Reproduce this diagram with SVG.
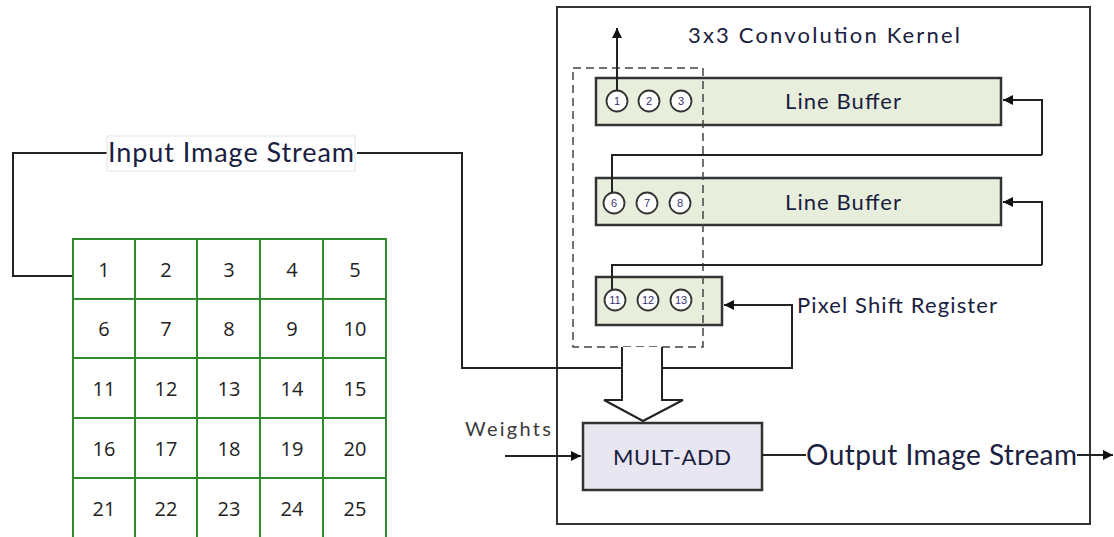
<svg xmlns="http://www.w3.org/2000/svg" width="1114" height="537" viewBox="0 0 1114 537">
<defs>
<style>
.ln{fill:none;stroke:#222;stroke-width:2}
.buf{fill:#e8eedc;stroke:#333;stroke-width:2.5}
.cir{fill:#fff;stroke:#333;stroke-width:1.8}
.cn{font-family:"Liberation Sans",Arial,sans-serif;font-size:11px;fill:#3a3070;text-anchor:middle}
.lbl{font-family:Lato,"Open Sans","Liberation Sans",sans-serif;fill:#1a2040}
.gn{font-family:"Open Sans","Liberation Sans",sans-serif;font-size:20px;fill:#222;text-anchor:middle}
.cell{fill:#fff;stroke:#2e8b2e;stroke-width:2}
</style>
<marker id="ah" viewBox="0 0 10 10" refX="10" refY="5" markerWidth="10" markerHeight="10" markerUnits="userSpaceOnUse" orient="auto">
<path d="M0,0 L10,5 L0,10 z" fill="#111"/>
</marker>
</defs>
<rect width="1114" height="537" fill="#fff"/>

<g id="kernel">
<rect x="557" y="7" width="533" height="517" fill="#fff" stroke="#333" stroke-width="2"/>
<text x="688" y="43" class="lbl" font-size="22" textLength="272" lengthAdjust="spacing">3x3 Convolution Kernel</text>
</g>

<g id="linebuffer1">
<rect x="596" y="78" width="405" height="47" class="buf"/>
<text x="785" y="109" class="lbl" font-size="22" textLength="116" lengthAdjust="spacing">Line Buffer</text>
<circle cx="617" cy="101" r="10.5" class="cir"/><text x="617" y="105" class="cn">1</text>
<circle cx="649" cy="101" r="10.5" class="cir"/><text x="649" y="105" class="cn">2</text>
<circle cx="681" cy="101" r="10.5" class="cir"/><text x="681" y="105" class="cn">3</text>
</g>

<g id="linebuffer2">
<rect x="596" y="178" width="405" height="47" class="buf"/>
<text x="785" y="210" class="lbl" font-size="22" textLength="116" lengthAdjust="spacing">Line Buffer</text>
<circle cx="614" cy="203" r="10.5" class="cir"/><text x="614" y="207" class="cn">6</text>
<circle cx="647" cy="203" r="10.5" class="cir"/><text x="647" y="207" class="cn">7</text>
<circle cx="680" cy="203" r="10.5" class="cir"/><text x="680" y="207" class="cn">8</text>
</g>

<g id="shiftregister">
<rect x="596" y="277" width="126" height="48" class="buf"/>
<circle cx="615" cy="300" r="10.5" class="cir"/><text x="615" y="304" class="cn" font-size="10">11</text>
<circle cx="648" cy="300" r="10.5" class="cir"/><text x="648" y="304" class="cn" font-size="10">12</text>
<circle cx="681" cy="300" r="10.5" class="cir"/><text x="681" y="304" class="cn" font-size="10">13</text>
<text x="797" y="313" class="lbl" font-size="22" textLength="200" lengthAdjust="spacing">Pixel Shift Register</text>
</g>

<g id="window">
<rect x="573" y="68" width="130" height="279" fill="none" stroke="#444" stroke-width="1.5" stroke-dasharray="8,5"/>
</g>

<g id="multadd">
<rect x="583" y="423" width="179" height="67" fill="#e8e6f0" stroke="#333" stroke-width="2.5"/>
<text x="613" y="465" class="lbl" font-size="22" textLength="118" lengthAdjust="spacing">MULT-ADD</text>
</g>

<g id="weights">
<text x="465" y="436" font-family="Lato, Open Sans, Liberation Sans, sans-serif" font-size="20" fill="#3a3a3a" textLength="86" lengthAdjust="spacing">Weights</text>
</g>

<g id="inputgrid">
<g>
<rect x="73" y="239" width="62" height="60" class="cell"/><rect x="135" y="239" width="62" height="60" class="cell"/><rect x="197" y="239" width="63" height="60" class="cell"/><rect x="260" y="239" width="63" height="60" class="cell"/><rect x="323" y="239" width="63" height="60" class="cell"/>
<rect x="73" y="299" width="62" height="59" class="cell"/><rect x="135" y="299" width="62" height="59" class="cell"/><rect x="197" y="299" width="63" height="59" class="cell"/><rect x="260" y="299" width="63" height="59" class="cell"/><rect x="323" y="299" width="63" height="59" class="cell"/>
<rect x="73" y="358" width="62" height="60" class="cell"/><rect x="135" y="358" width="62" height="60" class="cell"/><rect x="197" y="358" width="63" height="60" class="cell"/><rect x="260" y="358" width="63" height="60" class="cell"/><rect x="323" y="358" width="63" height="60" class="cell"/>
<rect x="73" y="418" width="62" height="60" class="cell"/><rect x="135" y="418" width="62" height="60" class="cell"/><rect x="197" y="418" width="63" height="60" class="cell"/><rect x="260" y="418" width="63" height="60" class="cell"/><rect x="323" y="418" width="63" height="60" class="cell"/>
<rect x="73" y="478" width="62" height="62" class="cell"/><rect x="135" y="478" width="62" height="62" class="cell"/><rect x="197" y="478" width="63" height="62" class="cell"/><rect x="260" y="478" width="63" height="62" class="cell"/><rect x="323" y="478" width="63" height="62" class="cell"/>
</g>
<g>
<text x="104" y="277" class="gn">1</text><text x="166" y="277" class="gn">2</text><text x="229" y="277" class="gn">3</text><text x="292" y="277" class="gn">4</text><text x="355" y="277" class="gn">5</text>
<text x="104" y="336" class="gn">6</text><text x="166" y="336" class="gn">7</text><text x="229" y="336" class="gn">8</text><text x="292" y="336" class="gn">9</text><text x="355" y="336" class="gn">10</text>
<text x="104" y="396" class="gn">11</text><text x="166" y="396" class="gn">12</text><text x="229" y="396" class="gn">13</text><text x="292" y="396" class="gn">14</text><text x="355" y="396" class="gn">15</text>
<text x="104" y="456" class="gn">16</text><text x="166" y="456" class="gn">17</text><text x="229" y="456" class="gn">18</text><text x="292" y="456" class="gn">19</text><text x="355" y="456" class="gn">20</text>
<text x="104" y="516" class="gn">21</text><text x="166" y="516" class="gn">22</text><text x="229" y="516" class="gn">23</text><text x="292" y="516" class="gn">24</text><text x="355" y="516" class="gn">25</text>
</g>
</g>

<g id="connectors">
<path d="M72,276 H13 V153 H107" class="ln"/>
<path d="M357,153 H462 V368 H792 V305 H724" class="ln" marker-end="url(#ah)"/>
<path d="M617,90 V28" class="ln" marker-end="url(#ah)"/>
<path d="M1042,155 V100 H1003" class="ln" marker-end="url(#ah)"/>
<path d="M1042,155 H612 V192" class="ln"/>
<path d="M1042,265 V202 H1003" class="ln" marker-end="url(#ah)"/>
<path d="M1042,265 H612 V289" class="ln"/>
<path d="M622,347 V400 H604 L643,421 L683,400 H662 V347" fill="#fff" stroke="#222" stroke-width="2"/>
<path d="M505,456 H581" class="ln" marker-end="url(#ah)"/>
<path d="M762,455 H806" class="ln"/>
<path d="M1077,455 H1113" class="ln" marker-end="url(#ah)"/>
</g>

<g id="labels">
<rect x="107" y="136" width="248" height="35" fill="#fff" stroke="#e4e4e4" stroke-width="1"/>
<text x="108" y="162" class="lbl" font-size="27" textLength="246" lengthAdjust="spacing">Input Image Stream</text>
<text x="806" y="465" class="lbl" font-size="28" textLength="271" lengthAdjust="spacing">Output Image Stream</text>
</g>
</svg>
